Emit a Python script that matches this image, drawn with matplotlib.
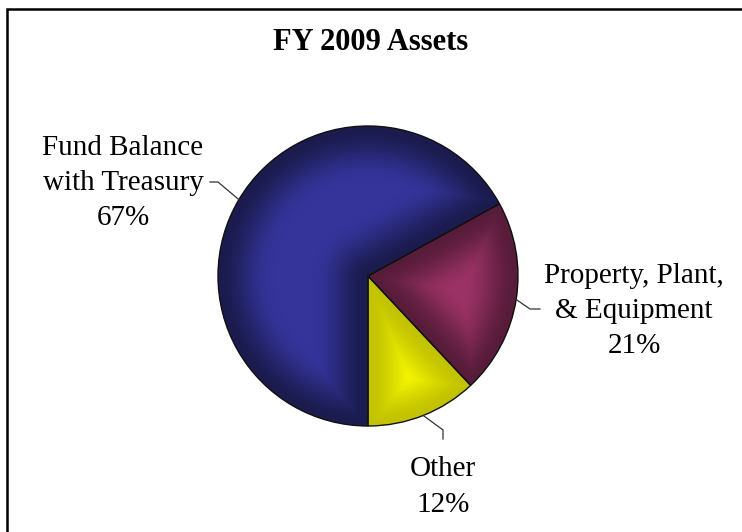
import numpy as np
import matplotlib
matplotlib.use("Agg")
import matplotlib.pyplot as plt
from matplotlib.patches import Circle, Rectangle

# data
categories = ["Fund Balance\nwith Treasury", "Property, Plant,\n& Equipment", "Other"]
shares = [67, 21, 12]
bright = ["#34349a", "#9c3366", "#ffff00"]
dark = ["#1b1b4e", "#571c3a", "#c2c200"]

W, H = 742, 532
cx, cy, R = 368, H - 276, 150

def Y(y):
    # image pixel row -> data y
    return H - y

fig = plt.figure(figsize=(W / 100, H / 100), dpi=100)
ax = fig.add_axes([0, 0, 1, 1])

wedges, _ = ax.pie(shares, colors=bright, center=(cx, cy), radius=R,
                   startangle=-90, counterclock=False,
                   wedgeprops=dict(linewidth=0))

# soft edge shading for each slice
n = 600
xs = np.linspace(cx - R, cx + R, n)
ys = np.linspace(cy - R, cy + R, n)
gx, gy = np.meshgrid(xs, ys)
dx, dy = gx - cx, gy - cy
r = np.hypot(dx, dy)
phi = np.degrees(np.arctan2(dy, dx))
img = np.ones((n, n, 3))
bw = 55.0
for w, cb, cd in zip(wedges, bright, dark):
    t1, t2 = w.theta1, w.theta2
    rel = (phi - t1) % 360
    span = (t2 - t1) % 360
    m = rel <= span
    d = R - r
    for a in (t1, t2):
        diff = np.radians(phi - a)
        de = np.where(np.cos(diff) > 0, r * np.abs(np.sin(diff)), r)
        d = np.minimum(d, de)
    t = np.clip(d / bw, 0, 1)
    t = t * t * (3 - 2 * t)
    b = np.array(matplotlib.colors.to_rgb(cb))
    k = np.array(matplotlib.colors.to_rgb(cd))
    col = k[None, None, :] + (b - k)[None, None, :] * t[..., None]
    img[m] = col[m]

im = ax.imshow(img, origin="lower", extent=(cx - R, cx + R, cy - R, cy + R),
               interpolation="bilinear", zorder=2)
clip = Circle((cx, cy), R, transform=ax.transData)
im.set_clip_path(clip)

# outlines on top
ax.pie(shares, colors=["none"] * 3, center=(cx, cy), radius=R,
       startangle=-90, counterclock=False,
       wedgeprops=dict(linewidth=1.0, edgecolor="#111111", zorder=3))

# labels and leader lines
label_pos = [(123, 183), (634, 311), (443, 487)]
elbows = [(218, 182), (530, 309), (443, 430)]
ends = [(210, 182), (540, 309), (443, 439)]
for w, name, v, lp, el, en in zip(wedges, categories, shares, label_pos, elbows, ends):
    mid = np.radians((w.theta1 + w.theta2) / 2)
    p0 = (cx + R * np.cos(mid), cy + R * np.sin(mid))
    ax.plot([p0[0], el[0], en[0]], [p0[1], Y(el[1]), Y(en[1])],
            color="#333333", linewidth=0.9, zorder=4)
    ax.text(lp[0], Y(lp[1]), f"{name}\n{v}%", ha="center", va="center",
            family="Liberation Serif", fontsize=21, linespacing=1.45, zorder=5)

ax.text(371, Y(42), "FY 2009 Assets", ha="center", va="center",
        family="Liberation Serif", fontweight="bold", fontsize=22)

# chart border (right and bottom edges fall outside the crop)
ax.add_patch(Rectangle((7, -10), W + 20, Y(9) + 10, fill=False,
                       edgecolor="black", linewidth=1.8, zorder=6))

ax.set_xlim(0, W)
ax.set_ylim(0, H)
ax.set_aspect("equal")
ax.axis("off")

fig.savefig("out.png", dpi=100)
